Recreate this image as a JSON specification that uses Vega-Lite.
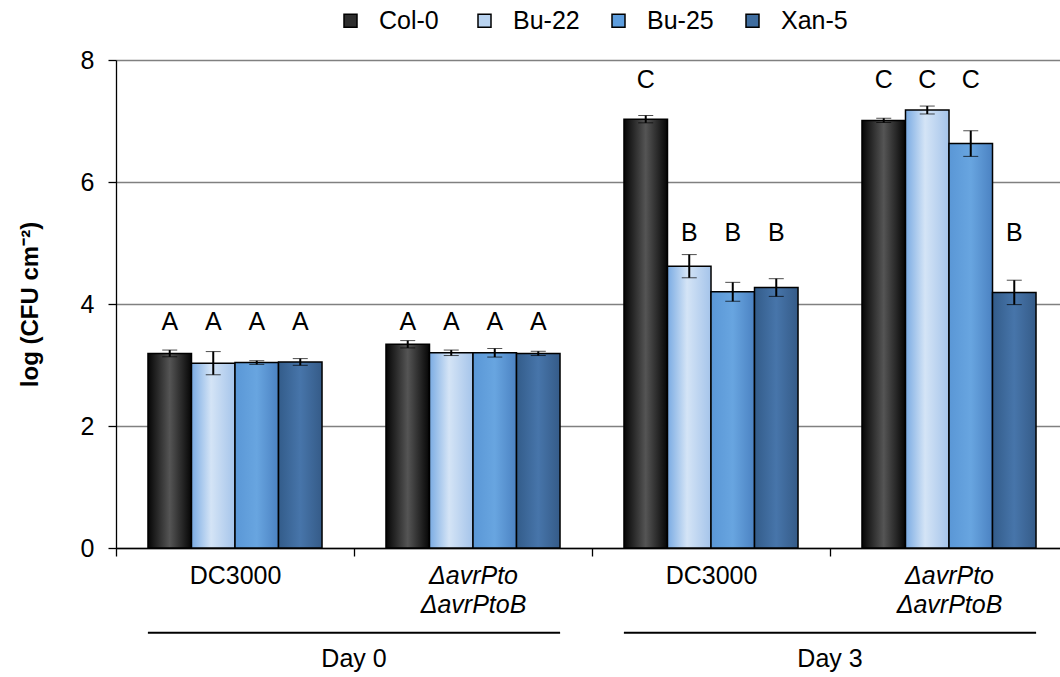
{
  "$schema": "https://vega.github.io/schema/vega-lite/v6.json",
  "width": 944,
  "height": 488,
  "autosize": {"type": "none"},
  "padding": {"left": 116, "top": 60, "right": 0, "bottom": 129},
  "config": {"font": "Liberation Sans", "view": {"stroke": null}},
  "datasets": {
    "bars": [
      {"day": "Day 0", "strain": "DC3000", "group": "Day 0 DC3000", "genotype": "Col-0", "mean": 3.19, "err": 0.055, "letter": "A", "letter_height": 3.7},
      {"day": "Day 0", "strain": "DC3000", "group": "Day 0 DC3000", "genotype": "Bu-22", "mean": 3.03, "err": 0.19, "letter": "A", "letter_height": 3.7},
      {"day": "Day 0", "strain": "DC3000", "group": "Day 0 DC3000", "genotype": "Bu-25", "mean": 3.04, "err": 0.03, "letter": "A", "letter_height": 3.7},
      {"day": "Day 0", "strain": "DC3000", "group": "Day 0 DC3000", "genotype": "Xan-5", "mean": 3.05, "err": 0.055, "letter": "A", "letter_height": 3.7},
      {"day": "Day 0", "strain": "ΔavrPto ΔavrPtoB", "group": "Day 0 ΔavrPto ΔavrPtoB", "genotype": "Col-0", "mean": 3.34, "err": 0.06, "letter": "A", "letter_height": 3.7},
      {"day": "Day 0", "strain": "ΔavrPto ΔavrPtoB", "group": "Day 0 ΔavrPto ΔavrPtoB", "genotype": "Bu-22", "mean": 3.2, "err": 0.045, "letter": "A", "letter_height": 3.7},
      {"day": "Day 0", "strain": "ΔavrPto ΔavrPtoB", "group": "Day 0 ΔavrPto ΔavrPtoB", "genotype": "Bu-25", "mean": 3.2, "err": 0.07, "letter": "A", "letter_height": 3.7},
      {"day": "Day 0", "strain": "ΔavrPto ΔavrPtoB", "group": "Day 0 ΔavrPto ΔavrPtoB", "genotype": "Xan-5", "mean": 3.19, "err": 0.035, "letter": "A", "letter_height": 3.7},
      {"day": "Day 3", "strain": "DC3000", "group": "Day 3 DC3000", "genotype": "Col-0", "mean": 7.03, "err": 0.06, "letter": "C", "letter_height": 7.67},
      {"day": "Day 3", "strain": "DC3000", "group": "Day 3 DC3000", "genotype": "Bu-22", "mean": 4.62, "err": 0.19, "letter": "B", "letter_height": 5.16},
      {"day": "Day 3", "strain": "DC3000", "group": "Day 3 DC3000", "genotype": "Bu-25", "mean": 4.2, "err": 0.155, "letter": "B", "letter_height": 5.16},
      {"day": "Day 3", "strain": "DC3000", "group": "Day 3 DC3000", "genotype": "Xan-5", "mean": 4.27, "err": 0.145, "letter": "B", "letter_height": 5.16},
      {"day": "Day 3", "strain": "ΔavrPto ΔavrPtoB", "group": "Day 3 ΔavrPto ΔavrPtoB", "genotype": "Col-0", "mean": 7.01, "err": 0.035, "letter": "C", "letter_height": 7.67},
      {"day": "Day 3", "strain": "ΔavrPto ΔavrPtoB", "group": "Day 3 ΔavrPto ΔavrPtoB", "genotype": "Bu-22", "mean": 7.18, "err": 0.065, "letter": "C", "letter_height": 7.67},
      {"day": "Day 3", "strain": "ΔavrPto ΔavrPtoB", "group": "Day 3 ΔavrPto ΔavrPtoB", "genotype": "Bu-25", "mean": 6.63, "err": 0.21, "letter": "C", "letter_height": 7.67},
      {"day": "Day 3", "strain": "ΔavrPto ΔavrPtoB", "group": "Day 3 ΔavrPto ΔavrPtoB", "genotype": "Xan-5", "mean": 4.19, "err": 0.2, "letter": "B", "letter_height": 5.16}
    ],
    "days": [
      {"day": "Day 0", "start": "Day 0 DC3000", "end": "Day 0 ΔavrPto ΔavrPtoB"},
      {"day": "Day 3", "start": "Day 3 DC3000", "end": "Day 3 ΔavrPto ΔavrPtoB"}
    ]
  },
  "layer": [
    {
      "data": {"name": "bars"},
      "mark": {"type": "bar", "stroke": "black", "strokeWidth": 1.5, "opacity": 1},
      "encoding": {
        "x": {
          "field": "group", "type": "nominal",
          "scale": {"domain": ["Day 0 DC3000", "Day 0 ΔavrPto ΔavrPtoB", "Day 3 DC3000", "Day 3 ΔavrPto ΔavrPtoB"], "range": [0, 952], "paddingInner": 0, "paddingOuter": 0},
          "axis": {
            "title": null,
            "labelAngle": 0,
            "tickBand": "extent",
            "labelExpr": "indexof(datum.value + '', 'avr') >= 0 ? ['ΔavrPto', 'ΔavrPtoB'] : (indexof(datum.value + '', 'DC3000') >= 0 ? 'DC3000' : '')",
            "labelFontStyle": {"condition": {"test": "indexof(datum.value + '', 'avr') >= 0", "value": "italic"}, "value": "normal"},
            "labelFontSize": 25,
            "labelColor": "black",
            "labelLineHeight": 29,
            "labelPadding": 7,
            "tickSize": 8,
            "tickColor": "black",
            "tickWidth": 1.3,
            "domainColor": "black",
            "domainWidth": 1.3,
            "grid": false
          }
        },
        "xOffset": {"field": "genotype", "type": "nominal", "sort": ["Col-0", "Bu-22", "Bu-25", "Xan-5"], "scale": {"paddingOuter": 0.735, "paddingInner": 0}},
        "y": {
          "field": "mean", "type": "quantitative",
          "title": "log (CFU cm⁻²)",
          "scale": {"domain": [0, 8], "nice": false},
          "axis": {
            "titleFontSize": 24,
            "titleFontWeight": "bold",
            "titleColor": "black",
            "titlePadding": 38,
            "values": [0, 2, 4, 6, 8],
            "format": "d",
            "labelFontSize": 25,
            "labelColor": "black",
            "labelPadding": 14,
            "tickSize": 8,
            "tickColor": "black",
            "tickWidth": 1.3,
            "domainColor": "black",
            "domainWidth": 1.3,
            "grid": true,
            "gridColor": "#808080",
            "gridWidth": 1.3
          }
        },
        "color": {
          "field": "genotype", "type": "nominal",
          "sort": ["Col-0", "Bu-22", "Bu-25", "Xan-5"],
          "scale": {"domain": ["Col-0", "Bu-22", "Bu-25", "Xan-5"], "range": ["#2e2e2e", "#b9d3f0", "#5e9ede", "#3f6d9f"]},
          "condition": [
            {"test": "datum.genotype === 'Col-0'", "value": {"gradient": "linear", "x1": 0, "y1": 0, "x2": 1, "y2": 0, "stops": [{"offset": 0, "color": "#050505"}, {"offset": 0.5, "color": "#555555"}, {"offset": 1, "color": "#050505"}]}},
            {"test": "datum.genotype === 'Bu-22'", "value": {"gradient": "linear", "x1": 0, "y1": 0, "x2": 1, "y2": 0, "stops": [{"offset": 0, "color": "#7aabe3"}, {"offset": 0.45, "color": "#d4e4f6"}, {"offset": 1, "color": "#a5c4ea"}]}},
            {"test": "datum.genotype === 'Bu-25'", "value": {"gradient": "linear", "x1": 0, "y1": 0, "x2": 1, "y2": 0, "stops": [{"offset": 0, "color": "#5a97d6"}, {"offset": 0.5, "color": "#68a5e0"}, {"offset": 1, "color": "#4b82c2"}]}},
            {"test": "datum.genotype === 'Xan-5'", "value": {"gradient": "linear", "x1": 0, "y1": 0, "x2": 1, "y2": 0, "stops": [{"offset": 0, "color": "#335c8a"}, {"offset": 0.5, "color": "#4775aa"}, {"offset": 1, "color": "#355b88"}]}}
          ],
          "legend": {
            "title": null,
            "orient": "none",
            "legendX": 222,
            "legendY": -52,
            "direction": "horizontal",
            "symbolType": "square",
            "symbolSize": 169,
            "symbolStrokeColor": "black",
            "symbolStrokeWidth": 1.5,
            "labelFontSize": 25,
            "labelColor": "black",
            "labelOffset": 16,
            "columnPadding": 26,
            "gridAlign": "all",
            "encode": {
              "symbols": {
                "update": {
                  "fill": [
                    {"test": "datum.value === 'Col-0'", "value": {"gradient": "linear", "x1": 0, "y1": 0, "x2": 1, "y2": 0, "stops": [{"offset": 0, "color": "#050505"}, {"offset": 0.5, "color": "#555555"}, {"offset": 1, "color": "#050505"}]}},
                    {"test": "datum.value === 'Bu-22'", "value": {"gradient": "linear", "x1": 0, "y1": 0, "x2": 1, "y2": 0, "stops": [{"offset": 0, "color": "#7aabe3"}, {"offset": 0.45, "color": "#d4e4f6"}, {"offset": 1, "color": "#a5c4ea"}]}},
                    {"test": "datum.value === 'Bu-25'", "value": {"gradient": "linear", "x1": 0, "y1": 0, "x2": 1, "y2": 0, "stops": [{"offset": 0, "color": "#5a97d6"}, {"offset": 0.5, "color": "#68a5e0"}, {"offset": 1, "color": "#4b82c2"}]}},
                    {"value": {"gradient": "linear", "x1": 0, "y1": 0, "x2": 1, "y2": 0, "stops": [{"offset": 0, "color": "#335c8a"}, {"offset": 0.5, "color": "#4775aa"}, {"offset": 1, "color": "#355b88"}]}}
                  ],
                  "opacity": {"value": 1}
                }
              }
            }
          }
        }
      }
    },
    {
      "data": {"name": "bars"},
      "mark": {"type": "errorbar", "ticks": {"size": 15, "strokeWidth": 2, "color": "black"}, "rule": {"strokeWidth": 2, "color": "black"}},
      "encoding": {
        "x": {"field": "group", "type": "nominal"},
        "xOffset": {"field": "genotype", "type": "nominal", "sort": ["Col-0", "Bu-22", "Bu-25", "Xan-5"]},
        "y": {"field": "mean", "type": "quantitative", "title": "log (CFU cm⁻²)"},
        "yError": {"field": "err"}
      }
    },
    {
      "data": {"name": "bars"},
      "mark": {"type": "text", "fontSize": 25, "color": "black", "baseline": "middle", "align": "center"},
      "encoding": {
        "x": {"field": "group", "type": "nominal"},
        "xOffset": {"field": "genotype", "type": "nominal", "sort": ["Col-0", "Bu-22", "Bu-25", "Xan-5"]},
        "y": {"field": "letter_height", "type": "quantitative", "title": "log (CFU cm⁻²)"},
        "text": {"field": "letter"}
      }
    },
    {
      "data": {"name": "days"},
      "mark": {"type": "rule", "color": "black", "strokeWidth": 2},
      "encoding": {
        "x": {"field": "start", "type": "nominal", "bandPosition": 0.134},
        "x2": {"field": "end", "bandPosition": 0.866},
        "y": {"datum": -1.39, "type": "quantitative", "title": "log (CFU cm⁻²)"}
      }
    },
    {
      "data": {"name": "days"},
      "mark": {"type": "text", "fontSize": 25, "color": "black", "baseline": "middle", "align": "center"},
      "encoding": {
        "x": {"field": "end", "type": "nominal", "bandPosition": 0},
        "y": {"datum": -1.82, "type": "quantitative", "title": "log (CFU cm⁻²)"},
        "text": {"field": "day"}
      }
    }
  ]
}
